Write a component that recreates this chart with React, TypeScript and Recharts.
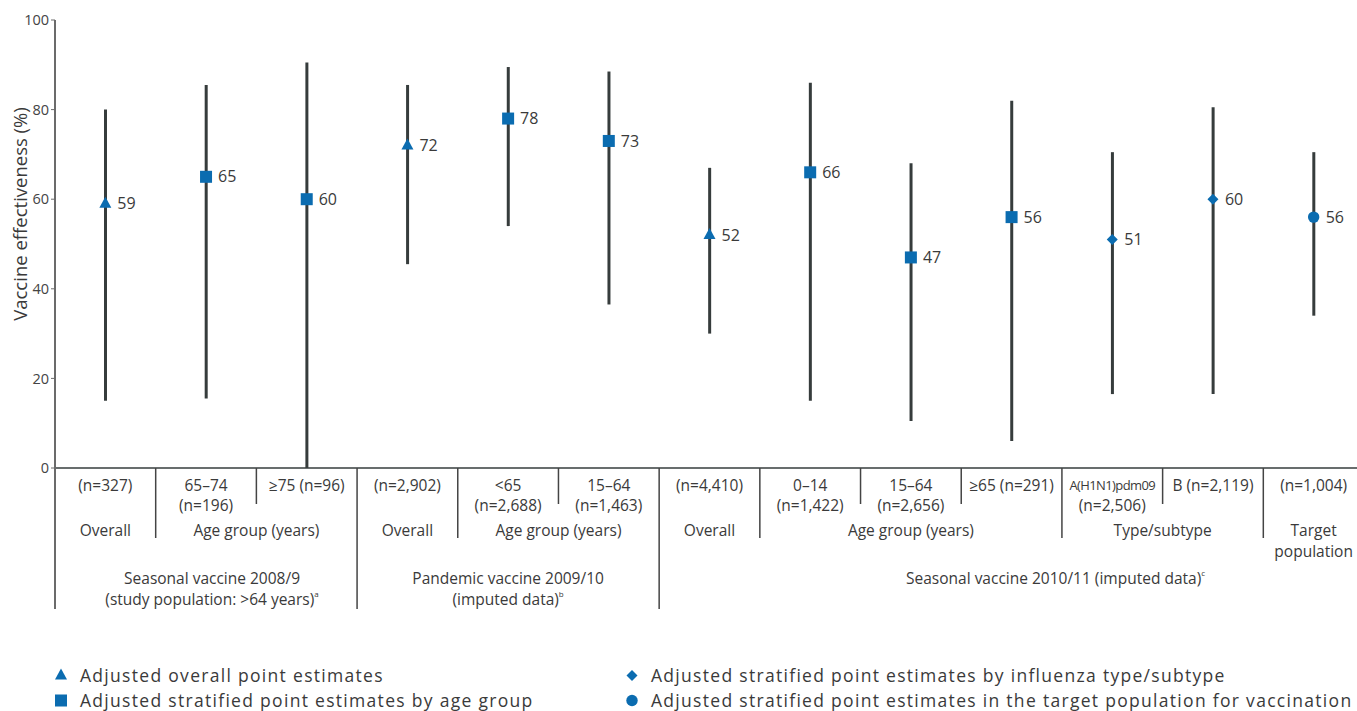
import React from 'react';
import { ComposedChart, Bar, Line, XAxis, YAxis, LabelList } from 'recharts';

// one entry per column, left to right
const CATEGORIES = [
  's0809_overall', 's0809_65_74', 's0809_75plus',
  'p0910_overall', 'p0910_lt65', 'p0910_15_64',
  's1011_overall', 's1011_0_14', 's1011_15_64', 's1011_65plus',
  's1011_h1n1', 's1011_b', 's1011_target',
];
const POINT_ESTIMATES = [59, 65, 60, 72, 78, 73, 52, 66, 47, 56, 51, 60, 56];
const CI_LOWER = [15, 15.5, 0, 45.5, 54, 36.5, 30, 15, 10.5, 6, 16.5, 16.5, 34];
const CI_UPPER = [80, 85.5, 90.5, 85.5, 89.5, 88.5, 67, 86, 68, 82, 70.5, 80.5, 70.5];
const MARKERS = [
  'triangle', 'square', 'square',
  'triangle', 'square', 'square',
  'triangle', 'square', 'square', 'square',
  'diamond', 'diamond', 'circle',
];
const N_LABELS = [
  ['(n=327)'], ['65–74', '(n=196)'], ['≥75 (n=96)'],
  ['(n=2,902)'], ['<65', '(n=2,688)'], ['15–64', '(n=1,463)'],
  ['(n=4,410)'], ['0–14', '(n=1,422)'], ['15–64', '(n=2,656)'], ['≥65 (n=291)'],
  ['A(H1N1)pdm09', '(n=2,506)'], ['B (n=2,119)'], ['(n=1,004)'],
];
const SUBGROUPS = [
  { label: ['Overall'], start: 0, span: 1 },
  { label: ['Age group (years)'], start: 1, span: 2 },
  { label: ['Overall'], start: 3, span: 1 },
  { label: ['Age group (years)'], start: 4, span: 2 },
  { label: ['Overall'], start: 6, span: 1 },
  { label: ['Age group (years)'], start: 7, span: 3 },
  { label: ['Type/subtype'], start: 10, span: 2 },
  { label: ['Target', 'population'], start: 12, span: 1 },
];
const GROUPS = [
  { label: ['Seasonal vaccine 2008/9', '(study population:  >64 years)'], note: 'a', start: 0, span: 3 },
  { label: ['Pandemic vaccine 2009/10', '(imputed  data)'], note: 'b', start: 3, span: 3 },
  { label: ['Seasonal vaccine 2010/11 (imputed  data)'], note: 'c', start: 6, span: 7 },
];
const Y_TICKS = [0, 20, 40, 60, 80, 100];
const LEGEND_ITEMS = [
  { marker: 'triangle', text: 'Adjusted overall point estimates' },
  { marker: 'square', text: 'Adjusted stratified point estimates by age group' },
  { marker: 'diamond', text: 'Adjusted stratified point estimates by influenza type/subtype' },
  { marker: 'circle', text: 'Adjusted stratified point estimates in the target population for vaccination' },
];

const data = CATEGORIES.map((key, i) => ({
  key,
  ve: POINT_ESTIMATES[i],
  ci: [CI_LOWER[i], CI_UPPER[i]],
  marker: MARKERS[i],
}));

const BLUE = '#0b6cb0';
const DARK = '#363c3c';
const TEXT = '#3a3a3a';
const CHART_W = 1364;
const CHART_H = 711;
const Y_AXIS_W = 55;
const BAND = (CHART_W - Y_AXIS_W) / CATEGORIES.length;
const GROUP_DX = [6, 0, 44];

const markerPath = (kind: string, cx: number, cy: number) => {
  if (kind === 'triangle') return <path d={`M${cx},${cy - 7} L${cx + 6},${cy + 4} L${cx - 6},${cy + 4} Z`} fill={BLUE} />;
  if (kind === 'square') return <rect x={cx - 6} y={cy - 6} width={12} height={12} fill={BLUE} />;
  if (kind === 'diamond') return <path d={`M${cx},${cy - 5.5} L${cx + 5.5},${cy} L${cx},${cy + 5.5} L${cx - 5.5},${cy} Z`} fill={BLUE} />;
  return <circle cx={cx} cy={cy} r={5.7} fill={BLUE} />;
};

const PointDot = (props: any) => {
  const { cx, cy, payload, index } = props;
  if (cx == null || cy == null) return null;
  return <g key={`dot-${index}`}>{markerPath(payload.marker, cx, cy)}</g>;
};

const dividerEnd = (i: number) => {
  if (GROUPS.some((g) => g.start === i)) return 609;
  if (SUBGROUPS.some((s) => s.start === i)) return 538;
  return 504;
};

const TableTick = (props: any) => {
  const { x, y, index } = props;
  const left = x - BAND / 2;
  const lines = N_LABELS[index] || [];
  const sub = SUBGROUPS.find((s) => s.start === index);
  const grpIdx = GROUPS.findIndex((g) => g.start === index);
  const grp = grpIdx >= 0 ? GROUPS[grpIdx] : null;
  const small = index === 10;
  return (
    <g>
      <line
        x1={left} x2={left} y1={y} y2={dividerEnd(index)}
        stroke={index === 0 ? '#6b6b6b' : '#444'} strokeWidth={index === 0 ? 2 : 1.5}
      />
      {lines.map((t, k) => (
        <text
          key={k} x={x} y={y + 17 + k * 19.5} textAnchor="middle" dominantBaseline="central"
          fill={TEXT} fontSize={small && k === 0 ? 13 : 15.5} letterSpacing={small && k === 0 ? -0.6 : 0}
        >{t}</text>
      ))}
      {sub && sub.label.map((t, k) => (
        <text
          key={`s${k}`} x={left + (sub.span * BAND) / 2} y={y + 62 + k * 20.5}
          textAnchor="middle" dominantBaseline="central" fill={TEXT} fontSize={15.5}
        >{t}</text>
      ))}
      {grp && grp.label.map((t, k) => (
        <text
          key={`g${k}`} x={left + (grp.span * BAND) / 2 + GROUP_DX[grpIdx]} y={y + 110 + k * 21}
          textAnchor="middle" dominantBaseline="central" fill={TEXT} fontSize={15.5}
        >
          {t}
          {k === grp.label.length - 1 && <tspan fontSize={8} dy={-6}>{grp.note}</tspan>}
        </text>
      ))}
    </g>
  );
};

const LegendMarker = ({ kind }: { kind: string }) => (
  <svg width={14} height={14} style={{ display: 'block' }}>{markerPath(kind, 7, 7.5)}</svg>
);

export default function App() {
  return (
    <div
      style={{
        position: 'absolute', left: 0, top: 0, width: 1357, height: 711, overflow: 'hidden',
        background: '#fff', fontFamily: '"Open Sans", sans-serif',
      }}
    >
      <ComposedChart width={CHART_W} height={CHART_H} data={data} margin={{ top: 20, right: 0, bottom: 0, left: 0 }}>
        <XAxis
          dataKey="key" interval={0} tickLine={false} tickSize={0} tickMargin={0} height={243}
          axisLine={{ stroke: DARK, strokeWidth: 1.5 }} tick={<TableTick />}
        />
        <YAxis
          width={Y_AXIS_W} domain={[0, 100]} ticks={Y_TICKS} allowDataOverflow
          axisLine={{ stroke: '#6b6b6b', strokeWidth: 2 }} tickLine={{ stroke: '#6b6b6b' }}
          tickSize={4} tickMargin={2} tick={{ fontSize: 14.5, fill: '#444' }}
          label={{
            content: () => (
              <text x={19} y={214} transform="rotate(-90 19 214)" textAnchor="middle"
                dominantBaseline="central" fontSize={18.5} fill={TEXT}>
                Vaccine effectiveness (%)
              </text>
            ),
          }}
        />
        <Bar dataKey="ci" barSize={3} fill={DARK} isAnimationActive={false} />
        <Line
          dataKey="ve" stroke="none" dot={<PointDot />} activeDot={false}
          isAnimationActive={false} legendType="none"
        >
          <LabelList dataKey="ve" position="right" offset={12} fontSize={16} fill={TEXT} />
        </Line>
      </ComposedChart>
      <div
        style={{
          position: 'absolute', left: 54, top: 662, display: 'grid',
          gridTemplateColumns: '571px auto', gridAutoFlow: 'column', gridTemplateRows: '25px 25px',
          fontSize: 17.5, letterSpacing: 1.3, color: TEXT,
        }}
      >
        {LEGEND_ITEMS.map((item) => (
          <div key={item.text} style={{ display: 'flex', alignItems: 'center', whiteSpace: 'nowrap', height: 25 }}>
            <LegendMarker kind={item.marker} />
            <span style={{ marginLeft: 12 }}>{item.text}</span>
          </div>
        ))}
      </div>
    </div>
  );
}
